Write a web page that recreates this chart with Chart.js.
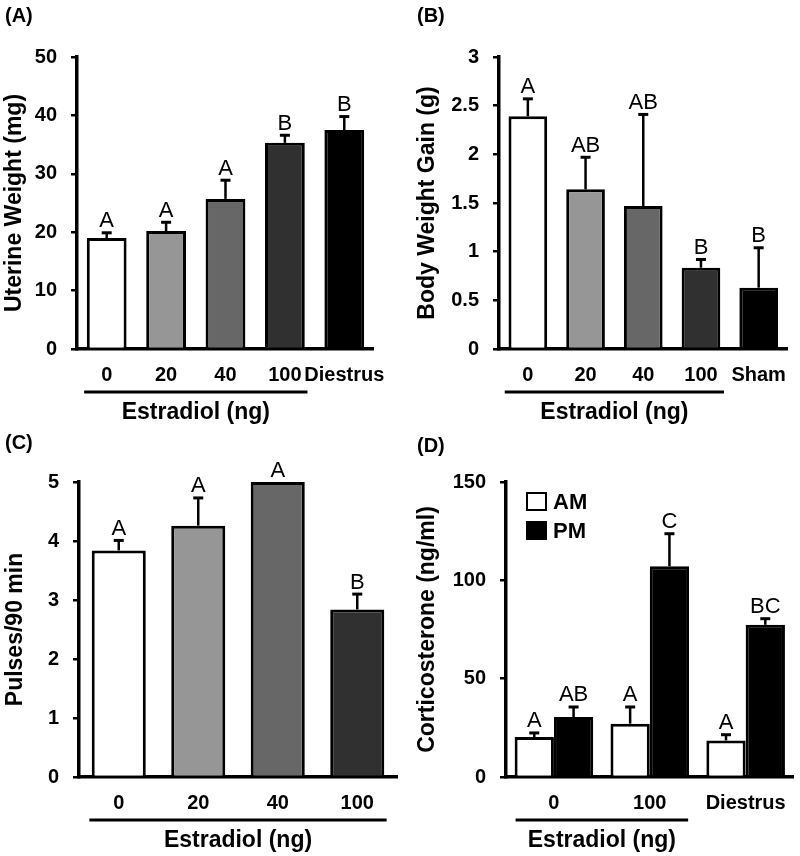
<!DOCTYPE html>
<html><head><meta charset="utf-8">
<script src="https://cdn.jsdelivr.net/npm/chart.js@4/dist/chart.umd.min.js"></script>
<style>
html,body{margin:0;padding:0;background:#fff;}
#wrap{position:relative;width:800px;height:856px;overflow:hidden;}
canvas{position:absolute;}
</style></head><body>
<div id="wrap">
<canvas id="cA" width="400" height="430" style="left:0;top:0"></canvas>
<canvas id="cB" width="400" height="430" style="left:400px;top:0"></canvas>
<canvas id="cC" width="400" height="426" style="left:0;top:430px"></canvas>
<canvas id="cD" width="400" height="426" style="left:400px;top:430px"></canvas>
</div>
<script>
// ---------- data ----------
const catsA = ['0', '20', '40', '100', 'Diestrus'];
const uterineWeight = [19.0, 20.2, 25.7, 35.3, 37.5];
const uterineWeightSem = [0.9, 1.5, 3.2, 1.3, 2.3];
const uterineLetters = ['A', 'A', 'A', 'B', 'B'];

const catsB = ['0', '20', '40', '100', 'Sham'];
const bodyWeightGain = [2.39, 1.64, 1.47, 0.835, 0.63];
const bodyWeightGainSem = [0.18, 0.33, 0.94, 0.085, 0.41];
const bodyWeightLetters = ['A', 'AB', 'AB', 'B', 'B'];

const catsC = ['0', '20', '40', '100'];
const pulses = [3.84, 4.26, 5.0, 2.84];
const pulsesSem = [0.17, 0.47, 0, 0.26];
const pulsesLetters = ['A', 'A', 'A', 'B'];

const catsD = ['0', '100', 'Diestrus'];
const seriesD = ['AM', 'PM'];
const corticoAM = [20.3, 27.1, 18.6];
const corticoAMSem = [2.1, 8.5, 2.9];
const corticoPM = [30.5, 107.1, 77.4];
const corticoPMSem = [5.1, 16.6, 3.1];
const corticoAMLetters = ['A', 'A', 'A'];
const corticoPMLetters = ['AB', 'C', 'BC'];

const groupLabel = 'Estradiol (ng)';

// ---------- styling ----------
const FONT = "'Liberation Sans', Arial, Helvetica, sans-serif";
const grays5 = ['#ffffff', '#969696', '#676767', '#303030', '#000000'];

function overlay(cfg) {
  return {
    id: 'overlay',
    afterDatasetsDraw(chart) {
      const ctx = chart.ctx;
      const y = chart.scales.y;
      ctx.save();
      ctx.strokeStyle = '#000';
      ctx.fillStyle = '#000';
      chart.data.datasets.forEach((ds, di) => {
        const meta = chart.getDatasetMeta(di);
        meta.data.forEach((bar, i) => {
          const err = cfg.errs[di][i];
          const top = y.getPixelForValue(ds.data[i] + err);
          let labelY = bar.y - 1;
          if (err > 0) {
            ctx.lineWidth = 2.5;
            ctx.beginPath();
            ctx.moveTo(bar.x, bar.y);
            ctx.lineTo(bar.x, top);
            ctx.stroke();
            ctx.lineWidth = 3;
            ctx.beginPath();
            ctx.moveTo(bar.x - 5, top);
            ctx.lineTo(bar.x + 5, top);
            ctx.stroke();
            labelY = top - 1.5;
          }
          ctx.font = '22px ' + FONT;
          ctx.textAlign = 'center';
          ctx.textBaseline = 'alphabetic';
          ctx.fillText(cfg.letters[di][i], bar.x, labelY - 4);
        });
      });
      ctx.restore();
    },
    afterDraw(chart) {
      const ctx = chart.ctx;
      const x = chart.scales.x;
      ctx.save();
      ctx.fillStyle = '#000';
      ctx.strokeStyle = '#000';
      // panel letter
      ctx.font = 'bold 20px ' + FONT;
      ctx.textAlign = 'left';
      ctx.textBaseline = 'middle';
      ctx.fillText(cfg.panel, cfg.panelX, cfg.panelY);
      // estradiol bracket
      const c0 = x.getPixelForValue(cfg.bracket[0]);
      const c1 = x.getPixelForValue(cfg.bracket[1]);
      const cw = x.getPixelForValue(1) - x.getPixelForValue(0);
      const x0 = c0 - cw * cfg.bracketExt, x1 = c1 + cw * cfg.bracketExt;
      const ly = x.top + cfg.lineOff;
      ctx.lineWidth = 3;
      ctx.beginPath();
      ctx.moveTo(x0, ly);
      ctx.lineTo(x1, ly);
      ctx.stroke();
      ctx.font = 'bold 23px ' + FONT;
      ctx.textAlign = 'center';
      ctx.textBaseline = 'alphabetic';
      ctx.fillText(groupLabel, (x0 + x1) / 2, x.top + cfg.labelOff);
      // legend
      if (cfg.legend) {
        const a = chart.chartArea;
        chart.data.datasets.forEach((ds, di) => {
          const bx = a.left + 21, by = a.top + 11 + di * 29;
          ctx.fillStyle = ds.backgroundColor;
          ctx.fillRect(bx, by, 19, 17);
          ctx.lineWidth = 2;
          ctx.strokeStyle = '#000';
          ctx.strokeRect(bx, by, 19, 17);
          ctx.fillStyle = '#000';
          ctx.font = 'bold 22px ' + FONT;
          ctx.textAlign = 'left';
          ctx.textBaseline = 'middle';
          ctx.fillText(ds.label, bx + 26, by + 9.5);
        });
      }
      ctx.restore();
    }
  };
}

function buildPanel(id, p) {
  const H = document.getElementById(id).height;
  return new Chart(document.getElementById(id), {
    type: 'bar',
    data: { labels: p.labels, datasets: p.datasets },
    options: {
      responsive: false,
      animation: false,
      devicePixelRatio: 1,
      layout: { padding: { top: p.area.top, right: 400 - p.area.right, left: 0, bottom: 0 } },
      plugins: { legend: { display: false }, tooltip: { enabled: false } },
      scales: {
        x: {
          grid: { display: false, drawTicks: false },
          border: { display: true, color: '#000', width: 3.5 },
          ticks: { color: '#000', font: { family: FONT, size: 20, weight: 'bold' }, padding: 14, maxRotation: 0, autoSkip: false },
          afterFit(s) { s.height = H - p.area.bottom; }
        },
        y: {
          min: 0, max: p.yMax,
          ticks: { stepSize: p.yStep, color: '#000', font: { family: FONT, size: 20, weight: 'bold' }, padding: 14,
                   callback: (v) => String(+Number(v).toFixed(2)) },
          grid: { display: true, drawOnChartArea: false, drawTicks: true, tickLength: 6, color: '#000', lineWidth: 2.5 },
          border: { display: true, color: '#000', width: 3.5 },
          title: { display: true, text: p.yTitle, color: '#000', font: { family: FONT, size: 23, weight: 'bold' }, padding: { top: p.titlePad, bottom: 0 } },
          afterFit(s) { s.width = p.area.left; }
        }
      }
    },
    plugins: [overlay(p.ov)]
  });
}

const barDs = (data, colors, bp) => ({ data, backgroundColor: colors, borderColor: '#000', borderWidth: 3, barPercentage: bp, categoryPercentage: 1 });

buildPanel('cA', {
  labels: catsA,
  datasets: [barDs(uterineWeight, grays5, 0.67)],
  area: { left: 77, right: 383, top: 57, bottom: 349 },
  yMax: 50, yStep: 10, yTitle: 'Uterine Weight (mg)', titlePad: 1,
  ov: { errs: [uterineWeightSem], letters: [uterineLetters], panel: '(A)', panelX: 5, panelY: 16,
        bracket: [0, 3], bracketExt: 0.38, lineOff: 43, labelOff: 70 }
});

buildPanel('cB', {
  labels: catsB,
  datasets: [barDs(bodyWeightGain, grays5, 0.67)],
  area: { left: 99, right: 399, top: 57, bottom: 349 },
  yMax: 3, yStep: 0.5, yTitle: 'Body Weight Gain (g)', titlePad: 14,
  ov: { errs: [bodyWeightGainSem], letters: [bodyWeightLetters], panel: '(B)', panelX: 17, panelY: 16,
        bracket: [0, 3], bracketExt: 0.4, lineOff: 43, labelOff: 70 }
});

buildPanel('cC', {
  labels: catsC,
  datasets: [barDs(pulses, grays5.slice(0, 4), 0.68)],
  area: { left: 79, right: 397, top: 52, bottom: 347 },
  yMax: 5, yStep: 1, yTitle: 'Pulses/90 min', titlePad: 2,
  ov: { errs: [pulsesSem], letters: [pulsesLetters], panel: '(C)', panelX: 5, panelY: 13,
        bracket: [0, 3], bracketExt: 0.37, lineOff: 43, labelOff: 70 }
});

buildPanel('cD', {
  labels: catsD,
  datasets: [
    { label: seriesD[0], data: corticoAM, backgroundColor: '#ffffff', borderColor: '#000', borderWidth: 3, barPercentage: 1, categoryPercentage: 0.82 },
    { label: seriesD[1], data: corticoPM, backgroundColor: '#000000', borderColor: '#000', borderWidth: 3, barPercentage: 1, categoryPercentage: 0.82 }
  ],
  area: { left: 106, right: 398, top: 52, bottom: 347 },
  yMax: 150, yStep: 50, yTitle: 'Corticosterone (ng/ml)', titlePad: 14,
  ov: { errs: [corticoAMSem, corticoPMSem], letters: [corticoAMLetters, corticoPMLetters], panel: '(D)', panelX: 17, panelY: 16,
        bracket: [0, 1], bracketExt: 0.4, lineOff: 43, labelOff: 70, legend: true }
});
</script>
</body></html>
